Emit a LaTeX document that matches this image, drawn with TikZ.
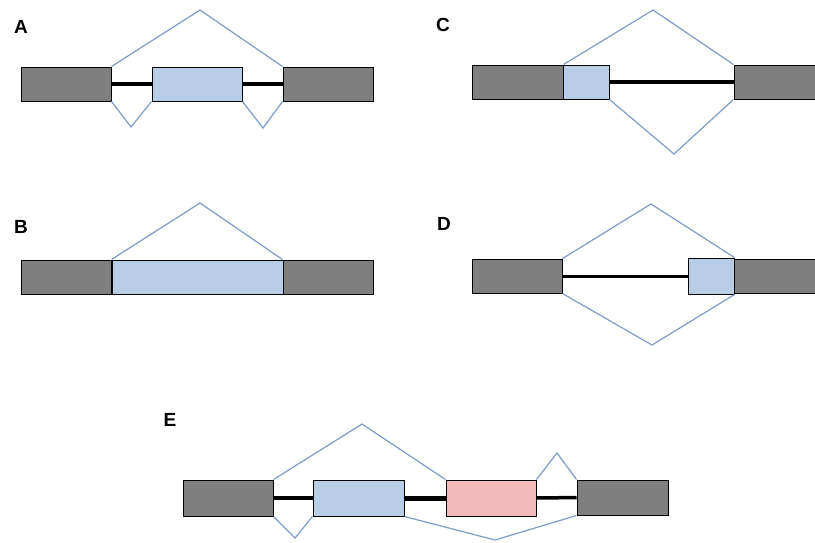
\documentclass[tikz,border=0pt]{standalone}
\usepackage{fontspec}
\setsansfont{Liberation Sans}
\usetikzlibrary{positioning}
\definecolor{exongray}{RGB}{127,127,127}
\definecolor{exonblue}{RGB}{184,205,230}
\definecolor{exonpink}{RGB}{242,186,186}
\definecolor{splicecol}{RGB}{126,156,198}
\tikzset{
  exon/.style={draw=black,line width=1pt,rectangle,inner sep=0pt,minimum height=34pt,minimum width=90pt},
  const/.style={exon,fill=exongray},
  alt/.style={exon,fill=exonblue},
  alttwo/.style={exon,fill=exonpink},
  intron/.style={line width=3.5pt,black},
  splice/.style={line width=1.2pt,splicecol,line join=miter},
  panel/.style={font=\sffamily\bfseries\fontsize{19}{19}\selectfont,inner sep=0pt}
}
\begin{document}
\begin{tikzpicture}[x=1pt,y=-1pt]
\useasboundingbox (0,0) rectangle (815,542);
\clip (0,0) rectangle (815,542);
% A
\node[panel] (labA) at (21,27) {A};
\node[const] (a1) at (66,84) {};
\node[alt] (a2) at (197,84) {};
\node[const] (a3) at (328,84) {};
\coordinate (ta) at (200,10);
\coordinate (ba1) at (131,127);
\coordinate (ba2) at (263,128);
\draw[intron] (a1) -- (a2);
\draw[intron] (a2) -- (a3);
\draw[splice] (a1.north east) -- (ta) -- (a3.north west);
\draw[splice] (a1.south east) -- (ba1) -- (a2.south west);
\draw[splice] (a2.south east) -- (ba2) -- (a3.south west);
% B
\node[panel] (labB) at (21,227) {B};
\node[const] (b1) at (66,277) {};
\node[alt,minimum width=171pt] (b2) at (197.5,277) {};
\node[const] (b3) at (328,277) {};
\coordinate (tb) at (200,203);
\draw[splice] (b1.north east) -- (tb) -- (b3.north west);
% C
\node[panel] (labC) at (443,25) {C};
\node[const,minimum width=91pt] (c1) at (517.5,82) {};
\node[alt,minimum width=46pt] (c2) at (586,82) {};
\node[const] (c3) at (779,82) {};
\coordinate (tc) at (653,10);
\coordinate (bc) at (674,154);
\draw[intron] (c2) -- (c3);
\draw[splice] (c1.north east) -- (tc) -- (c3.north west);
\draw[splice] (c2.south east) -- (bc) -- (c3.south west);
% D
\node[panel] (labD) at (444,224) {D};
\node[const] (d1) at (517,276) {};
\node[alt,minimum width=46pt,minimum height=36pt] (d2) at (711,276) {};
\node[const] (d3) at (779,276) {};
\coordinate (td) at (651,204);
\coordinate (bd) at (652,345);
\draw[intron,line width=3pt] (d1) -- (d2);
\draw[splice] (d1.north east) -- (td) -- (d2.north east);
\draw[splice] (d1.south east) -- (bd) -- (d2.south east);
% E
\node[panel] (labE) at (170,420) {E};
\node[const,minimum height=36pt] (e1) at (228,498) {};
\node[alt,minimum width=91pt,minimum height=36pt] (e2) at (358.5,498) {};
\node[alttwo,minimum height=36pt] (e3) at (491,498) {};
\node[const,minimum width=91pt,minimum height=35pt] (e4) at (622.5,497.5) {};
\coordinate (te) at (362,424);
\coordinate (te2) at (557,453);
\coordinate (be1) at (295,538);
\coordinate (be2) at (495,540);
\draw[intron] (e1) -- (e2);
\draw[intron,line width=5pt] (e2) -- (e3);
\draw[intron] (e3) -- (e4);
\draw[splice] (e1.north east) -- (te) -- (e3.north west);
\draw[splice] (e3.north east) -- (te2) -- (e4.north west);
\draw[splice] (e1.south east) -- (be1) -- (e2.south west);
\draw[splice] (e2.south east) -- (be2) -- (e4.south west);
\end{tikzpicture}
\end{document}
